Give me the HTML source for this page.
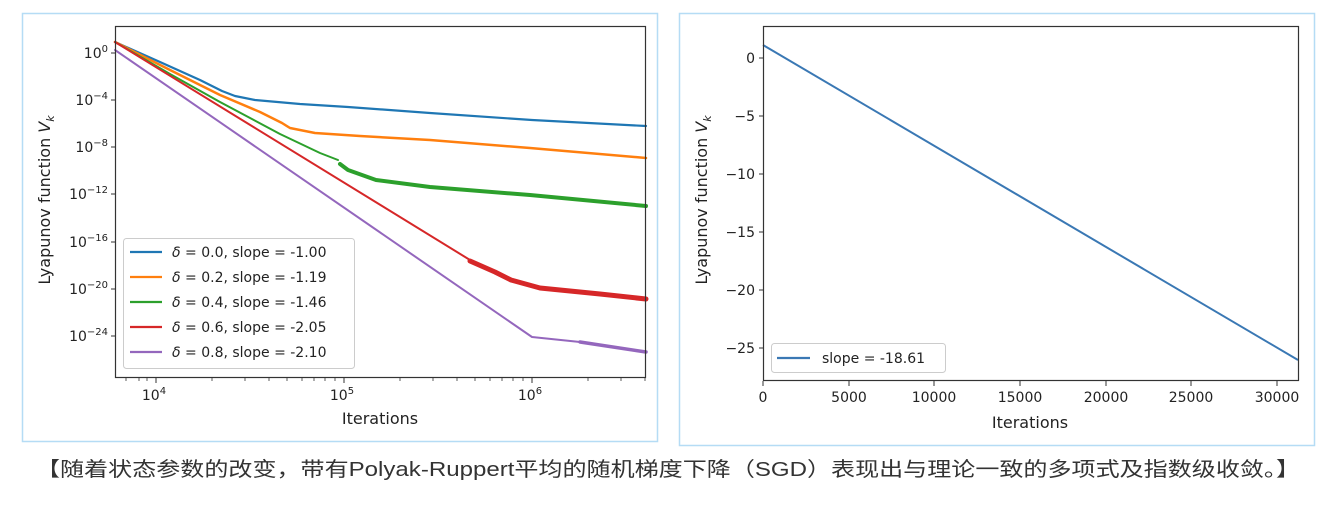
<!DOCTYPE html>
<html><head><meta charset="utf-8"><style>
html,body{margin:0;padding:0;background:#fff;}
svg{display:block;}
text{font-family:"DejaVu Sans","Liberation Sans",sans-serif;fill:#222;}
</style></head><body>
<svg width="1340" height="508" viewBox="0 0 1340 508" xmlns="http://www.w3.org/2000/svg">
<rect x="22.5" y="13.5" width="635" height="428" fill="#fff" stroke="#b5dcf5" stroke-width="1.5"/>
<rect x="679.5" y="13.5" width="635" height="432" fill="#fff" stroke="#b5dcf5" stroke-width="1.5"/>

<!-- LEFT CHART -->
<g fill="none" stroke-linejoin="round" stroke-linecap="round">
<polyline stroke="#1f77b4" stroke-width="2.2" points="115,42 160,62 200,80 222,91 235,96 255,100 300,104 348,107 430,113 532,120 646,126"/>
<polyline stroke="#ff7f0e" stroke-width="2.5" points="115,42 170,70 220,95 260,112 282,123 290,128 315,133 360,136 430,140 530,148 646,158"/>
<polyline stroke="#2ca02c" stroke-width="2" points="115,42 170,74 220,102 280,134 320,153 338,160"/>
<polyline stroke="#2ca02c" stroke-width="4" points="340,164 348,170 376,180 430,187 530,195 646,206"/>
<polyline stroke="#d62728" stroke-width="2" points="115,42 470,260"/>
<polyline stroke="#d62728" stroke-width="5" points="470,261 495,272 511,280 540,288 600,294 646,299"/>
<polyline stroke="#9467bd" stroke-width="2" points="115,50 532,337 580,342"/>
<polyline stroke="#9467bd" stroke-width="3.5" points="580,342 646,352"/>
</g>
<rect x="115.5" y="26.5" width="530" height="351" fill="none" stroke="#333" stroke-width="1.2"/>
<g stroke="#333" stroke-width="1">
<line x1="111" y1="53" x2="115" y2="53"/><line x1="111" y1="100" x2="115" y2="100"/><line x1="111" y1="147" x2="115" y2="147"/><line x1="111" y1="194" x2="115" y2="194"/><line x1="111" y1="242" x2="115" y2="242"/><line x1="111" y1="289" x2="115" y2="289"/><line x1="111" y1="336" x2="115" y2="336"/>
<line x1="156" y1="378" x2="156" y2="383"/><line x1="344" y1="378" x2="344" y2="383"/><line x1="532" y1="378" x2="532" y2="383"/>
</g>
<g stroke="#333" stroke-width="0.8">
<line x1="126" y1="378" x2="126" y2="381"/><line x1="139" y1="378" x2="139" y2="381"/><line x1="147" y1="378" x2="147" y2="381"/>
<line x1="212" y1="378" x2="212" y2="381"/><line x1="245" y1="378" x2="245" y2="381"/><line x1="269" y1="378" x2="269" y2="381"/><line x1="287" y1="378" x2="287" y2="381"/><line x1="302" y1="378" x2="302" y2="381"/><line x1="314" y1="378" x2="314" y2="381"/><line x1="325" y1="378" x2="325" y2="381"/><line x1="335" y1="378" x2="335" y2="381"/>
<line x1="400" y1="378" x2="400" y2="381"/><line x1="433" y1="378" x2="433" y2="381"/><line x1="457" y1="378" x2="457" y2="381"/><line x1="475" y1="378" x2="475" y2="381"/><line x1="490" y1="378" x2="490" y2="381"/><line x1="502" y1="378" x2="502" y2="381"/><line x1="513" y1="378" x2="513" y2="381"/><line x1="523" y1="378" x2="523" y2="381"/>
<line x1="588" y1="378" x2="588" y2="381"/><line x1="621" y1="378" x2="621" y2="381"/><line x1="645" y1="378" x2="645" y2="381"/>
</g>
<g font-size="14" text-anchor="end">
<text x="108" y="58">10<tspan font-size="10" dy="-6">0</tspan></text>
<text x="108" y="105">10<tspan font-size="10" dy="-6">−4</tspan></text>
<text x="108" y="152">10<tspan font-size="10" dy="-6">−8</tspan></text>
<text x="108" y="199">10<tspan font-size="10" dy="-6">−12</tspan></text>
<text x="108" y="247">10<tspan font-size="10" dy="-6">−16</tspan></text>
<text x="108" y="294">10<tspan font-size="10" dy="-6">−20</tspan></text>
<text x="108" y="341">10<tspan font-size="10" dy="-6">−24</tspan></text>
</g>
<g font-size="14" text-anchor="middle">
<text x="154" y="400">10<tspan font-size="10" dy="-6">4</tspan></text>
<text x="342" y="400">10<tspan font-size="10" dy="-6">5</tspan></text>
<text x="530" y="400">10<tspan font-size="10" dy="-6">6</tspan></text>
</g>
<text x="380" y="424" font-size="16" text-anchor="middle">Iterations</text>
<text transform="translate(50,200) rotate(-90)" font-size="16" text-anchor="middle">Lyapunov function <tspan font-style="italic">V<tspan font-size="11" dy="4">k</tspan></tspan></text>
<rect x="123.5" y="238.5" width="231" height="130" rx="3" fill="#fff" fill-opacity="0.85" stroke="#ccc"/>
<g stroke-width="2.2">
<line x1="130" y1="252" x2="162" y2="252" stroke="#1f77b4"/>
<line x1="130" y1="277" x2="162" y2="277" stroke="#ff7f0e"/>
<line x1="130" y1="302" x2="162" y2="302" stroke="#2ca02c"/>
<line x1="130" y1="327" x2="162" y2="327" stroke="#d62728"/>
<line x1="130" y1="352" x2="162" y2="352" stroke="#9467bd"/>
</g>
<g font-size="14">
<text x="172" y="257"><tspan font-style="italic">δ</tspan> = 0.0, slope = -1.00</text>
<text x="172" y="282"><tspan font-style="italic">δ</tspan> = 0.2, slope = -1.19</text>
<text x="172" y="307"><tspan font-style="italic">δ</tspan> = 0.4, slope = -1.46</text>
<text x="172" y="332"><tspan font-style="italic">δ</tspan> = 0.6, slope = -2.05</text>
<text x="172" y="357"><tspan font-style="italic">δ</tspan> = 0.8, slope = -2.10</text>
</g>

<!-- RIGHT CHART -->
<polyline fill="none" stroke="#3a78b4" stroke-width="2" points="763,45 1298,360"/>
<rect x="763.5" y="26.5" width="535" height="354" fill="none" stroke="#333" stroke-width="1.2"/>
<g stroke="#333" stroke-width="1">
<line x1="759" y1="58" x2="763" y2="58"/><line x1="759" y1="116" x2="763" y2="116"/><line x1="759" y1="174" x2="763" y2="174"/><line x1="759" y1="232" x2="763" y2="232"/><line x1="759" y1="290" x2="763" y2="290"/><line x1="759" y1="348" x2="763" y2="348"/>
<line x1="763" y1="381" x2="763" y2="386"/><line x1="849" y1="381" x2="849" y2="386"/><line x1="934" y1="381" x2="934" y2="386"/><line x1="1020" y1="381" x2="1020" y2="386"/><line x1="1106" y1="381" x2="1106" y2="386"/><line x1="1191" y1="381" x2="1191" y2="386"/><line x1="1277" y1="381" x2="1277" y2="386"/>
</g>
<g font-size="14" text-anchor="end">
<text x="755" y="63">0</text><text x="755" y="121">−5</text><text x="755" y="179">−10</text><text x="755" y="237">−15</text><text x="755" y="295">−20</text><text x="755" y="353">−25</text>
</g>
<g font-size="14" text-anchor="middle">
<text x="763" y="402">0</text><text x="849" y="402">5000</text><text x="934" y="402">10000</text><text x="1020" y="402">15000</text><text x="1106" y="402">20000</text><text x="1191" y="402">25000</text><text x="1277" y="402">30000</text>
</g>
<text x="1030" y="428" font-size="16" text-anchor="middle">Iterations</text>
<text transform="translate(707,200) rotate(-90)" font-size="16" text-anchor="middle">Lyapunov function <tspan font-style="italic">V<tspan font-size="11" dy="4">k</tspan></tspan></text>
<rect x="771.5" y="343.5" width="174" height="29" rx="3" fill="#fff" stroke="#ccc"/>
<line x1="777" y1="358" x2="810" y2="358" stroke="#3a78b4" stroke-width="2.2"/>
<text x="822" y="363" font-size="14">slope = -18.61</text>

<text x="36" y="476" font-size="20" textLength="1264" lengthAdjust="spacingAndGlyphs" style="font-family:'Liberation Sans','Noto Sans CJK SC',sans-serif;fill:#333;">【随着状态参数的改变，带有Polyak-Ruppert平均的随机梯度下降（SGD）表现出与理论一致的多项式及指数级收敛。】</text>
</svg>
</body></html>
